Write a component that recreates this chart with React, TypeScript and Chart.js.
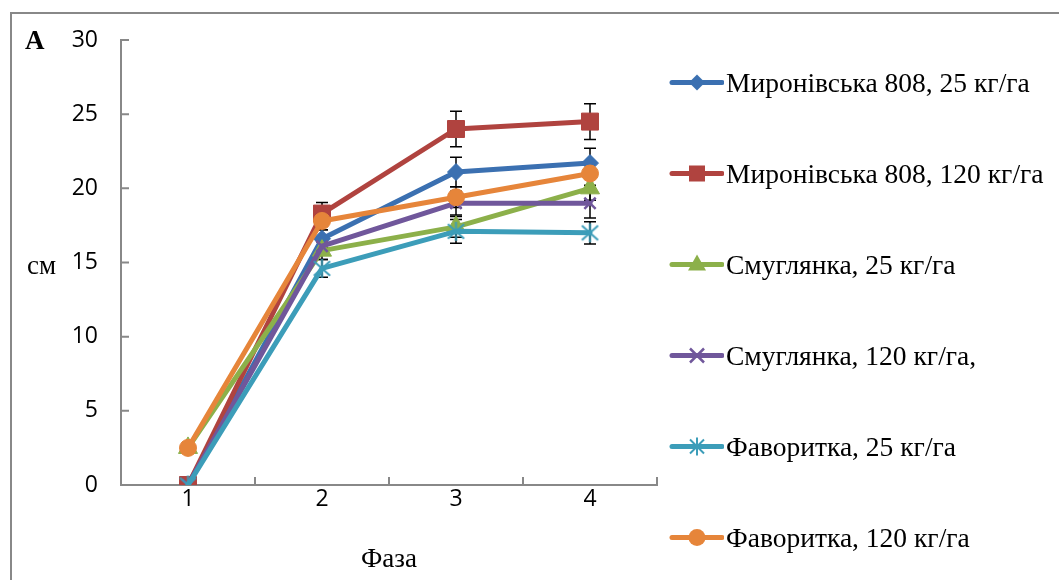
import React, { useEffect, useRef } from 'react';
import { Chart, registerables } from 'chart.js';

Chart.register(...registerables);

// ---- data ----
const phases = ['1', '2', '3', '4'];
const seriesNames = [
  'Миронівська 808, 25 кг/га',
  'Миронівська 808, 120 кг/га',
  'Смуглянка, 25 кг/га',
  'Смуглянка, 120 кг/га,',
  'Фаворитка, 25 кг/га',
  'Фаворитка, 120 кг/га',
];
const mir25 = [0, 16.6, 21.1, 21.7];
const mir120 = [0, 18.3, 24.0, 24.5];
const smu25 = [2.5, 15.8, 17.4, 20.0];
const smu120 = [0, 16.1, 19.0, 19.0];
const fav25 = [0, 14.6, 17.1, 17.0];
const fav120 = [2.5, 17.8, 19.4, 21.0];
const mir25Err = [0, 0.6, 1.0, 1.0];
const mir120Err = [0, 0.75, 1.2, 1.2];
const smu25Err = [0, 0.6, 0.7, 0.8];
const smu120Err = [0, 0.6, 0.8, 1.0];
const fav25Err = [0, 0.6, 0.8, 0.75];
const fav120Err = [0, 0.6, 0.7, 0.8];
const yTicks = [0, 5, 10, 15, 20, 25, 30];
const yTitle = 'см';
const xTitle = 'Фаза';
const panelLabel = 'A';

// ---- styles ----
const colors = ['#3b70b1', '#b0433f', '#8cb04a', '#70579b', '#3c9db9', '#e6853a'];
const AXIS = '#888888';
const SERIF = '"Liberation Serif", "Times New Roman", serif';
const SANS = '"Open Sans", "Liberation Sans", sans-serif';

function makeStar(color: string, r: number) {
  const c = document.createElement('canvas');
  const s = Math.ceil(r * 2 + 4);
  c.width = s;
  c.height = s;
  const ctx = c.getContext('2d')!;
  const m = s / 2;
  ctx.strokeStyle = color;
  ctx.lineWidth = 2;
  ctx.beginPath();
  const d = r * 0.85;
  ctx.moveTo(m - d, m - d * 0.9);
  ctx.lineTo(m + d, m + d * 0.9);
  ctx.moveTo(m + d, m - d * 0.9);
  ctx.lineTo(m - d, m + d * 0.9);
  ctx.moveTo(m, m - r);
  ctx.lineTo(m, m + r);
  ctx.stroke();
  return c;
}

const errorBars = {
  id: 'errorBars',
  beforeDatasetsDraw(chart: any) {
    const ctx = chart.ctx;
    const xs = chart.scales.x;
    const ys = chart.scales.y;
    ctx.save();
    ctx.strokeStyle = '#000';
    ctx.lineWidth = 1.5;
    chart.data.datasets.forEach((ds: any) => {
      const errs: number[] = ds.errors || [];
      ds.data.forEach((v: number, i: number) => {
        const e = errs[i];
        if (!e) return;
        const x = xs.getPixelForValue(i);
        const y1 = ys.getPixelForValue(v + e);
        const y2 = ys.getPixelForValue(v - e);
        ctx.beginPath();
        ctx.moveTo(x, y1);
        ctx.lineTo(x, y2);
        ctx.moveTo(x - 6, y1);
        ctx.lineTo(x + 6, y1);
        ctx.moveTo(x - 6, y2);
        ctx.lineTo(x + 6, y2);
        ctx.stroke();
      });
    });
    ctx.restore();
  },
};

const innerTicks = {
  id: 'innerTicks',
  afterDraw(chart: any) {
    const ctx = chart.ctx;
    const xs = chart.scales.x;
    const ys = chart.scales.y;
    const area = chart.chartArea;
    ctx.save();
    ctx.strokeStyle = AXIS;
    ctx.lineWidth = 2;
    ctx.beginPath();
    yTicks.forEach((v) => {
      const y = ys.getPixelForValue(v);
      ctx.moveTo(area.left, y);
      ctx.lineTo(area.left + 8, y);
    });
    for (let i = 0; i <= phases.length; i++) {
      const x = xs.getPixelForValue(i - 0.5);
      ctx.moveTo(x, area.bottom);
      ctx.lineTo(x, area.bottom - 8);
    }
    ctx.stroke();
    ctx.restore();
  },
};

const seriesValues = [mir25, mir120, smu25, smu120, fav25, fav120];
const seriesErrors = [mir25Err, mir120Err, smu25Err, smu120Err, fav25Err, fav120Err];
const pointStyles: any[] = ['rectRot', 'rect', 'triangle', 'crossRot', 'star', 'circle'];
const pointRadii = [8.5, 12, 11, 8, 9, 8.5];

function LegendMarker({ idx }: { idx: number }) {
  const c = colors[idx];
  const cx = 29;
  const cy = 13.5;
  let marker: any = null;
  if (idx === 0) {
    marker = <polygon points={`${cx},${cy - 8} ${cx + 8},${cy} ${cx},${cy + 8} ${cx - 8},${cy}`} fill={c} />;
  } else if (idx === 1) {
    marker = <rect x={cx - 8} y={cy - 8} width={16} height={16} fill={c} />;
  } else if (idx === 2) {
    marker = <polygon points={`${cx},${cy - 10} ${cx + 9},${cy + 6} ${cx - 9},${cy + 6}`} fill={c} />;
  } else if (idx === 3) {
    marker = (
      <g stroke={c} strokeWidth={2.5}>
        <line x1={cx - 7} y1={cy - 7} x2={cx + 7} y2={cy + 7} />
        <line x1={cx + 7} y1={cy - 7} x2={cx - 7} y2={cy + 7} />
      </g>
    );
  } else if (idx === 4) {
    marker = (
      <g stroke={c} strokeWidth={2}>
        <line x1={cx - 7} y1={cy - 7} x2={cx + 7} y2={cy + 7} />
        <line x1={cx + 7} y1={cy - 7} x2={cx - 7} y2={cy + 7} />
        <line x1={cx} y1={cy - 9} x2={cx} y2={cy + 9} />
      </g>
    );
  } else {
    marker = <circle cx={cx} cy={cy} r={8.5} fill={c} />;
  }
  return (
    <svg width={56} height={27} style={{ display: 'block', flex: '0 0 auto' }}>
      <line x1={4} y1={cy} x2={54} y2={cy} stroke={c} strokeWidth={5} strokeLinecap="round" />
      {marker}
    </svg>
  );
}

export default function App() {
  const ref = useRef<HTMLCanvasElement>(null);

  useEffect(() => {
    if (!ref.current) return;
    const datasets = seriesValues.map((vals, i) => ({
      label: seriesNames[i],
      data: vals,
      errors: seriesErrors[i],
      borderColor: colors[i],
      backgroundColor: colors[i],
      pointBackgroundColor: colors[i],
      pointBorderColor: colors[i],
      pointBorderWidth: i === 3 ? 2.5 : 1,
      pointStyle: i === 4 ? makeStar(colors[i], 9.5) : pointStyles[i],
      pointRadius: pointRadii[i],
      borderWidth: 5,
      borderCapStyle: 'round',
      borderJoinStyle: 'round',
      tension: 0,
      order: seriesValues.length - i,
    }));
    const chart = new Chart(ref.current, {
      type: 'line',
      data: { labels: phases, datasets: datasets as any },
      plugins: [errorBars, innerTicks],
      options: {
        animation: false,
        responsive: false,
        events: [],
        layout: { padding: { left: 0, top: 40, right: 402, bottom: 0 } },
        plugins: {
          legend: { display: false },
          tooltip: { enabled: false },
        },
        scales: {
          x: {
            type: 'category',
            offset: true,
            grid: { display: false, drawTicks: false, offset: true },
            border: { display: true, color: AXIS, width: 2 },
            ticks: { color: '#000', font: { family: SANS, size: 23 }, padding: 1 },
            title: {
              display: true,
              text: xTitle,
              color: '#000',
              font: { family: SERIF, size: 27 },
              padding: { top: 0, bottom: 4 },
            },
            afterFit: (s: any) => {
              s.height = 95;
            },
          },
          y: {
            min: 0,
            max: 30,
            grid: { display: false, drawTicks: false },
            border: { display: true, color: AXIS, width: 2 },
            ticks: {
              stepSize: 5,
              color: '#000',
              font: { family: SANS, size: 23 },
              padding: 23,
            },
            afterBuildTicks: (s: any) => {
              s.ticks = yTicks.map((v) => ({ value: v }));
            },
            afterFit: (s: any) => {
              s.width = 121;
            },
          },
        },
      } as any,
    });
    return () => chart.destroy();
  }, []);

  const legendTop = 82;
  const legendStep = 91;

  return (
    <div
      style={{
        position: 'fixed',
        left: 0,
        top: 0,
        width: 1059,
        height: 580,
        overflow: 'hidden',
        background: '#fff',
      }}
    >
      <div
        style={{
          position: 'absolute',
          left: 10,
          top: 12,
          width: 3000,
          height: 3000,
          borderLeft: `2px solid ${AXIS}`,
          borderTop: `2px solid ${AXIS}`,
        }}
      />
      <canvas
        ref={ref}
        width={1059}
        height={580}
        style={{ position: 'absolute', left: 0, top: 0, display: 'block' }}
      />
      <div
        style={{
          position: 'absolute',
          left: 25,
          top: 27,
          fontFamily: SERIF,
          fontWeight: 'bold',
          fontSize: 27,
          lineHeight: '27px',
          color: '#000',
        }}
      >
        {panelLabel}
      </div>
      <div
        style={{
          position: 'absolute',
          left: 27,
          top: 252,
          fontFamily: SERIF,
          fontSize: 27,
          lineHeight: '27px',
          color: '#000',
        }}
      >
        {yTitle}
      </div>
      {seriesNames.map((name, i) => (
        <div
          key={name}
          style={{
            position: 'absolute',
            left: 668,
            top: legendTop + i * legendStep - 13.5,
            display: 'flex',
            alignItems: 'flex-start',
            whiteSpace: 'nowrap',
          }}
        >
          <LegendMarker idx={i} />
          <span
            style={{
              marginLeft: 2,
              fontFamily: SERIF,
              fontSize: 27.5,
              lineHeight: '27px',
              color: '#000',
            }}
          >
            {name}
          </span>
        </div>
      ))}
    </div>
  );
}
